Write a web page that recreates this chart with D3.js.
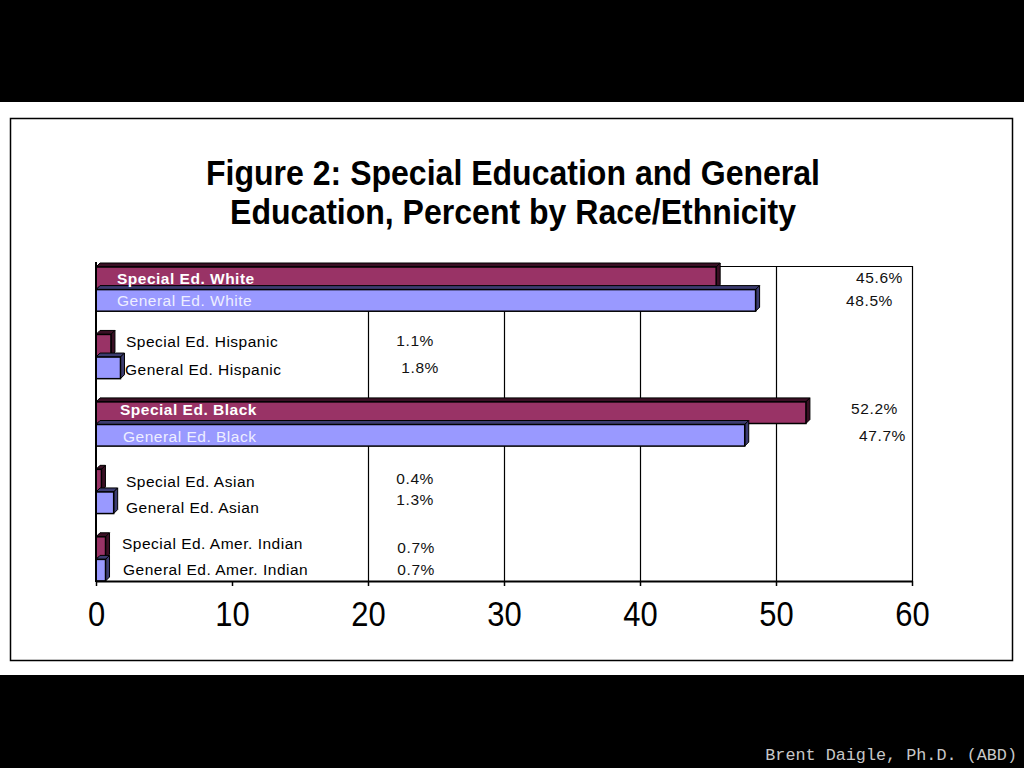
<!DOCTYPE html>
<html><head><meta charset="utf-8">
<script src="https://cdn.jsdelivr.net/npm/d3@7/dist/d3.min.js"></script>
<style>html,body{margin:0;padding:0;background:#000;}svg{display:block;}</style>
</head><body>
<svg id="c" width="1024" height="768"></svg>
<script>
// ---- data ----
const groups = ["White", "Hispanic", "Black", "Asian", "Amer. Indian"];
const series = ["Special Ed.", "General Ed."];
const specialValues = [45.6, 1.1, 52.2, 0.4, 0.7];
const generalValues = [48.5, 1.8, 47.7, 1.3, 0.7];
const xTicks = [0, 10, 20, 30, 40, 50, 60];
const titleLines = ["Figure 2: Special Education and General", "Education, Percent by Race/Ethnicity"];
const footer = "Brent Daigle, Ph.D. (ABD)";

// ---- layout (separate from data) ----
const seriesFill = ["#993366", "#9999ff"];
const seriesSide = ["#3a0f24", "#3c3c70"];
const catLabelDx = [[21, 21], [30, 29], [24, 27], [30, 30], [26, 27]];
const catLabelDy = [[2, 0], [-3, 2], [-2, 1], [2, 5], [-3, -1]];
const valLabelX = [[903, 893], [434, 439], [898, 906], [434, 434], [435, 435]];
const valLabelDy = [[1, 0], [-4, 0], [-3, 0], [-1, -3], [1, -1]];

const FONT = "Liberation Sans, Arial, sans-serif";
const svg = d3.select("#c");
svg.append("rect").attr("x", 0).attr("y", 102).attr("width", 1024).attr("height", 573).attr("fill", "#fff");
svg.append("rect").attr("x", 10.5).attr("y", 118.5).attr("width", 1002).attr("height", 542)
  .attr("fill", "none").attr("stroke", "#000").attr("stroke-width", 1.5);

// title
svg.append("g").selectAll("text").data(titleLines).join("text")
  .attr("transform", (d, i) => `translate(513,${185 + i * 39}) scale(0.89,1)`)
  .attr("text-anchor", "middle")
  .attr("font-family", FONT)
  .attr("font-weight", "bold").attr("font-size", 36).attr("fill", "#000")
  .text(d => d);

const x = d3.scaleLinear().domain([0, 60]).range([96, 912]);
const y = d3.scaleBand().domain(groups).range([265, 582]).paddingInner(0.3).paddingOuter(0);
const ySub = d3.scaleBand().domain(series).range([0, y.bandwidth()]).padding(0);

// plot frame & gridlines
const plot = svg.append("g");
plot.append("line").attr("x1", x(0)).attr("x2", x(60)).attr("y1", 266.5).attr("y2", 266.5).attr("stroke", "#000").attr("stroke-width", 1);
plot.selectAll("line.grid").data(xTicks.filter(t => t > 10)).join("line").attr("class", "grid")
  .attr("x1", d => Math.round(x(d)) + 0.5).attr("x2", d => Math.round(x(d)) + 0.5)
  .attr("y1", 266).attr("y2", 581).attr("stroke", "#000").attr("stroke-width", 1.2);

// bars (3D look)
const d3depth = 4;
const rows = [];
groups.forEach((g, gi) => {
  [specialValues[gi], generalValues[gi]].forEach((v, si) => {
    rows.push({ g, gi, si, v, s: series[si] });
  });
});
const barG = svg.append("g");
rows.forEach(r => {
  const x0 = x(0), x1 = x(r.v);
  const y0 = y(r.g) + ySub(r.s) + (r.si === 0 ? 2 : 1), y1 = y(r.g) + ySub(r.s) + ySub.bandwidth() - (r.si === 0 ? 0 : 1);
  const dd = d3depth;
  const gg = barG.append("g");
  gg.append("path")
    .attr("d", `M${x0},${y0} L${x0 + dd},${y0 - dd} L${x1 + dd},${y0 - dd} L${x1},${y0} Z`)
    .attr("fill", seriesSide[r.si]).attr("stroke", "#000").attr("stroke-width", 1);
  gg.append("path")
    .attr("d", `M${x1},${y0} L${x1 + dd},${y0 - dd} L${x1 + dd},${y1 - dd} L${x1},${y1} Z`)
    .attr("fill", seriesSide[r.si]).attr("stroke", "#000").attr("stroke-width", 1);
  gg.append("rect").attr("x", x0).attr("y", y0).attr("width", Math.max(0, x1 - x0)).attr("height", y1 - y0)
    .attr("fill", seriesFill[r.si]).attr("stroke", "#000").attr("stroke-width", 1.5);
});

// axes
svg.append("line").attr("x1", x(0)).attr("x2", x(0)).attr("y1", 262).attr("y2", 582).attr("stroke", "#000").attr("stroke-width", 2);
const xAxis = d3.axisBottom(x).tickValues(xTicks).tickSize(5).tickSizeOuter(0).tickPadding(14);
const ax = svg.append("g").attr("transform", "translate(0,581)").call(xAxis);
ax.select(".domain").attr("stroke", "#000").attr("stroke-width", 2);
ax.selectAll(".tick line").attr("stroke", "#000").attr("stroke-width", 1.5);
ax.selectAll(".tick text").attr("font-family", FONT).attr("font-size", 36).attr("fill", "#000")
  .attr("transform", "scale(0.86,1)");

// category labels
rows.forEach(r => {
  const big = r.v > 20;
  const cy = y(r.g) + ySub(r.s) + ySub.bandwidth() / 2 + catLabelDy[r.gi][r.si];
  svg.append("text")
    .attr("x", x(0) + catLabelDx[r.gi][r.si]).attr("y", cy).attr("dy", "0.35em")
    .attr("font-family", FONT).attr("font-size", 15.5).attr("letter-spacing", 0.5)
    .attr("font-weight", big && r.si === 0 ? "bold" : "normal")
    .attr("fill", big ? (r.si === 0 ? "#ffffff" : "#eeeeff") : "#000")
    .text(`${r.s} ${r.g}`);
});

// value labels
rows.forEach(r => {
  const cy = y(r.g) + ySub(r.s) + ySub.bandwidth() / 2 + valLabelDy[r.gi][r.si];
  svg.append("text")
    .attr("x", valLabelX[r.gi][r.si]).attr("y", cy).attr("dy", "0.35em")
    .attr("text-anchor", "end")
    .attr("font-family", FONT).attr("font-size", 15.5).attr("letter-spacing", 0.6)
    .attr("fill", "#111")
    .text(d3.format(".1f")(r.v) + "%");
});

// footer
svg.append("text").attr("x", 1017).attr("y", 760).attr("text-anchor", "end")
  .attr("font-family", "Liberation Mono, DejaVu Sans Mono, monospace").attr("font-size", 16.8)
  .attr("fill", "#c8c8c8").text(footer);
</script>
</body></html>
